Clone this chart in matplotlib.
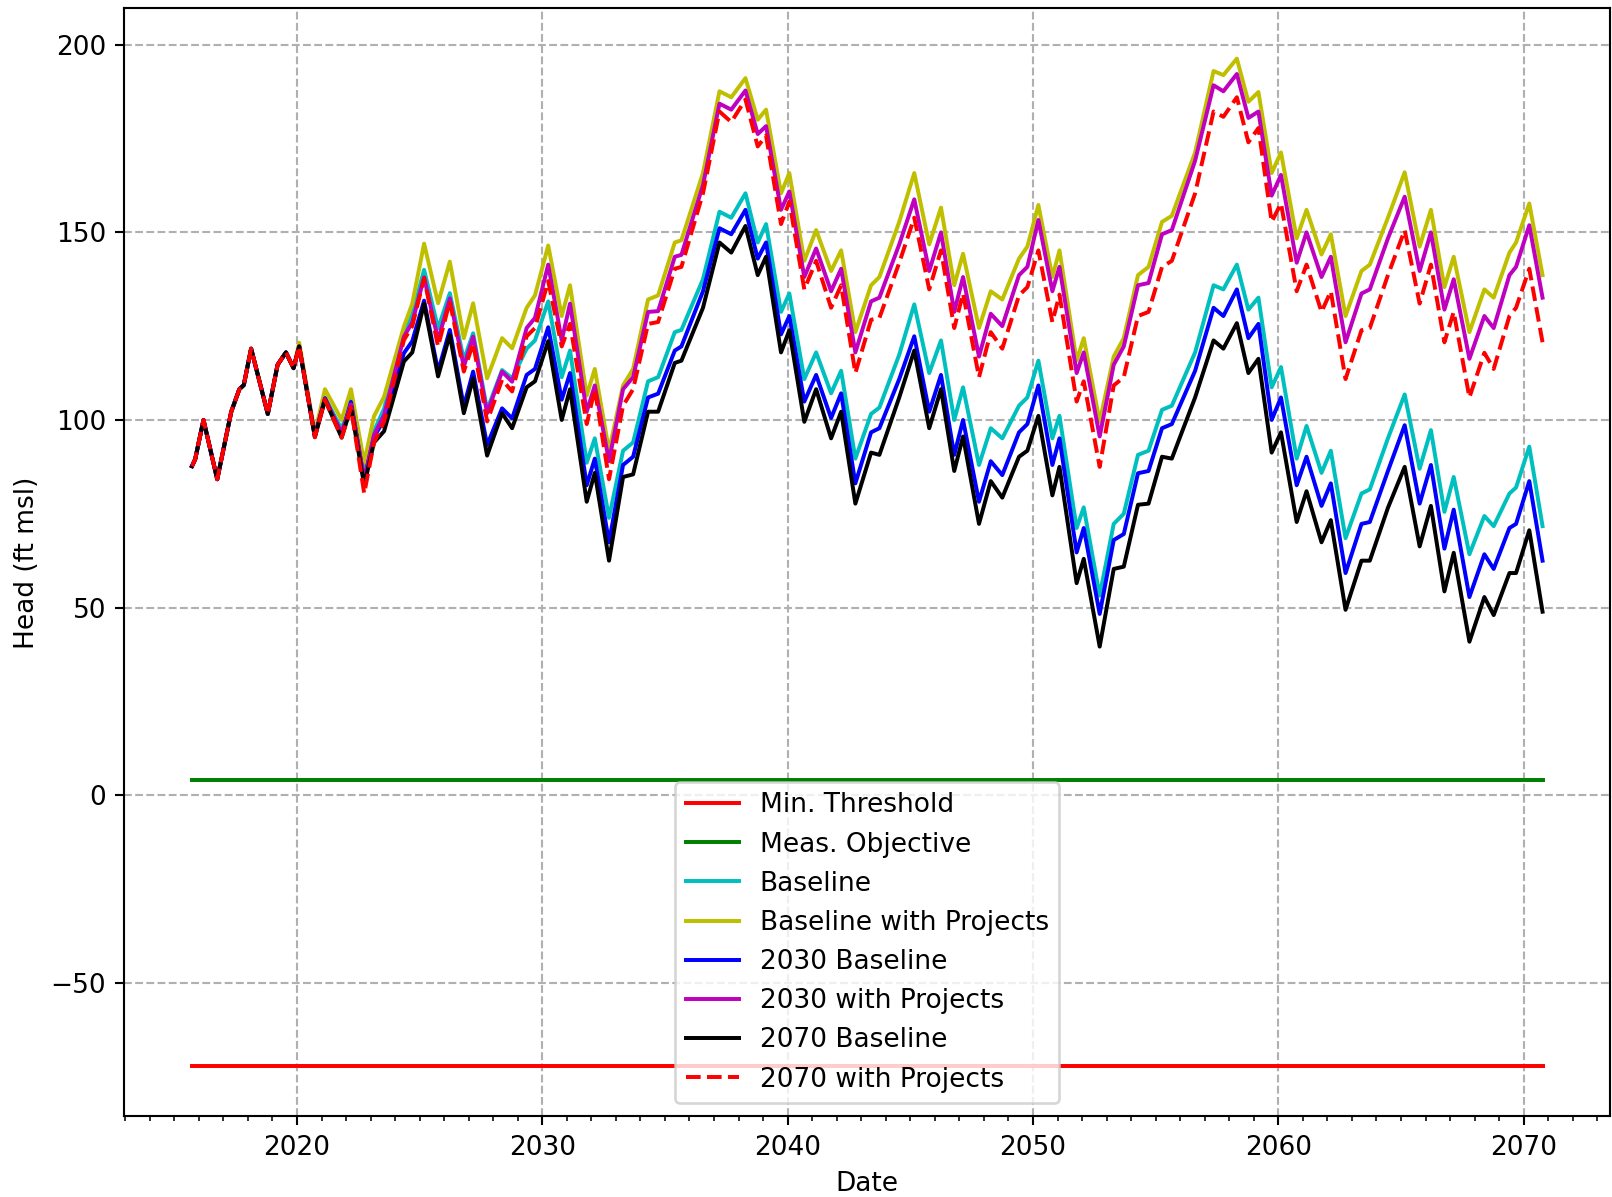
import numpy as np
import pandas as pd
import matplotlib
matplotlib.use('Agg')
import matplotlib.pyplot as plt
import matplotlib.dates as mdates

# Общий участок (до 2020 г.) - все сценарии совпадают
early_t = [2015.72, 2015.85, 2016.19, 2016.75, 2017.32, 2017.65, 2017.83, 2018.13,
           2018.81, 2019.21, 2019.55, 2019.86]
early_head = [87.7, 89.5, 100.0, 84.2, 102.2, 108.2, 109.3, 119.0, 101.6, 114.7, 118.0, 113.8]

# Прогнозный период, десятичные годы
late_t = [2020.09, 2020.73, 2021.14, 2021.82, 2022.2, 2022.74, 2023.14, 2023.55, 2024.36, 2024.7,
          2025.18, 2025.75, 2026.23, 2026.8, 2027.18, 2027.75, 2028.36, 2028.77, 2029.36, 2029.7,
          2030.24, 2030.79, 2031.13, 2031.81, 2032.14, 2032.72, 2033.29, 2033.7, 2034.31, 2034.72,
          2035.4, 2035.67, 2036.55, 2037.22, 2037.7, 2038.28, 2038.78, 2039.12, 2039.73, 2040.07,
          2040.68, 2041.16, 2041.77, 2042.18, 2042.76, 2043.4, 2043.74, 2044.55, 2045.16, 2045.77,
          2046.25, 2046.79, 2047.15, 2047.8, 2048.28, 2048.75, 2049.43, 2049.77, 2050.22, 2050.79,
          2051.08, 2051.78, 2052.07, 2052.72, 2053.29, 2053.7, 2054.28, 2054.71, 2055.26, 2055.66,
          2056.61, 2057.36, 2057.76, 2058.31, 2058.78, 2059.19, 2059.73, 2060.11, 2060.75, 2061.15,
          2061.76, 2062.14, 2062.74, 2063.39, 2063.73, 2064.47, 2065.15, 2065.76, 2066.22, 2066.77,
          2067.15, 2067.79, 2068.4, 2068.78, 2069.42, 2069.69, 2070.23, 2070.77]

baseline = [119.8, 96.0, 106.0, 97.5, 106.0, 86.0, 97.0, 103.0, 124.0, 128.0,
            140.0, 124.4, 133.8, 116.0, 123.1, 102.7, 113.3, 111.1, 119.0, 121.2,
            131.6, 111.4, 118.5, 88.6, 95.1, 73.9, 91.8, 94.0, 110.3, 111.4,
            123.4, 124.0, 137.5, 155.5, 153.9, 160.4, 147.3, 152.2, 128.8, 133.7,
            110.9, 118.0, 107.1, 113.1, 89.7, 101.6, 103.3, 117.4, 130.8, 112.5,
            121.2, 100.0, 108.7, 88.0, 97.8, 95.1, 103.8, 106.0, 115.8, 95.1,
            101.1, 71.2, 76.7, 53.2, 72.3, 75.0, 90.7, 91.8, 102.7, 103.8,
            118.0, 135.9, 134.8, 141.4, 129.4, 132.6, 108.7, 114.1, 89.7, 98.4,
            85.9, 91.8, 68.5, 80.4, 81.5, 95.1, 106.8, 87.0, 97.3, 75.5,
            84.8, 64.2, 74.4, 71.7, 80.4, 82.0, 92.9, 71.7]

baseline_proj = [120.6, 96.5, 108.2, 100.0, 108.2, 88.6, 101.0, 106.2, 124.9, 131.0,
                 147.0, 131.1, 142.2, 121.8, 131.1, 111.1, 121.8, 119.1, 129.9, 133.2,
                 146.5, 127.7, 135.9, 106.5, 113.6, 91.8, 109.2, 113.6, 132.1, 133.2,
                 147.3, 147.9, 165.8, 187.6, 186.0, 191.1, 180.0, 182.7, 160.4, 165.8,
                 142.4, 150.6, 139.7, 145.2, 123.4, 135.9, 138.1, 152.8, 165.8, 146.8,
                 156.6, 135.9, 144.3, 124.5, 134.3, 132.1, 143.0, 146.2, 157.3, 138.1,
                 145.2, 115.8, 121.8, 99.5, 116.9, 121.8, 138.6, 140.8, 152.8, 154.4,
                 171.3, 193.0, 191.9, 196.3, 184.8, 187.4, 165.8, 171.3, 148.4, 156.0,
                 144.1, 149.5, 127.7, 139.7, 141.4, 153.9, 166.0, 146.2, 156.0, 135.4,
                 143.5, 123.4, 134.8, 132.6, 144.6, 147.3, 157.7, 138.6]

base_2030 = [119.6, 95.8, 105.8, 96.0, 104.8, 84.0, 95.5, 100.0, 117.8, 121.0,
             131.8, 113.0, 124.0, 103.6, 112.9, 93.3, 103.1, 100.4, 112.0, 113.6,
             124.7, 105.4, 112.5, 82.6, 89.7, 67.4, 88.0, 90.2, 106.0, 107.0,
             118.5, 119.6, 134.3, 151.1, 149.5, 156.0, 143.0, 147.3, 122.8, 127.7,
             104.9, 112.0, 100.5, 107.1, 83.1, 96.7, 97.8, 110.9, 122.3, 102.2,
             112.0, 90.7, 100.0, 78.2, 89.0, 85.3, 96.7, 98.9, 109.2, 88.0,
             95.1, 64.7, 71.2, 48.3, 68.0, 69.6, 85.8, 86.4, 97.8, 98.9,
             113.1, 129.9, 127.7, 134.8, 121.8, 125.6, 100.0, 106.0, 82.6, 90.2,
             77.1, 83.1, 59.2, 72.3, 72.8, 86.4, 98.6, 77.7, 88.0, 65.7,
             76.1, 52.8, 64.2, 60.3, 71.2, 72.3, 83.7, 62.5]

proj_2030 = [119.6, 95.6, 105.6, 96.5, 104.2, 84.0, 96.0, 101.3, 122.2, 126.0,
             138.0, 121.3, 132.4, 114.2, 122.2, 101.8, 112.9, 110.2, 124.5, 127.2,
             141.4, 121.2, 131.0, 102.2, 109.2, 89.0, 108.2, 111.4, 128.8, 129.0,
             143.5, 144.0, 162.6, 184.3, 182.7, 187.8, 176.2, 178.3, 156.0, 160.9,
             138.1, 145.7, 134.3, 140.3, 118.0, 131.6, 132.6, 146.8, 158.8, 139.7,
             150.0, 128.8, 138.1, 116.9, 128.3, 125.0, 138.6, 140.8, 153.3, 134.3,
             140.8, 112.5, 118.0, 95.6, 114.7, 119.6, 135.9, 136.5, 149.5, 150.6,
             169.1, 189.2, 187.6, 192.2, 180.5, 182.2, 159.8, 165.3, 141.9, 150.0,
             138.1, 143.5, 120.7, 133.7, 134.8, 148.4, 159.5, 139.7, 150.0, 129.4,
             137.5, 116.3, 127.7, 124.5, 138.6, 140.8, 151.9, 132.6]

base_2070 = [119.6, 95.4, 105.4, 95.3, 103.3, 82.6, 94.0, 97.0, 115.6, 118.0,
             131.0, 111.6, 122.7, 101.8, 111.1, 90.5, 101.8, 97.8, 108.7, 110.3,
             121.0, 100.0, 108.2, 78.2, 85.9, 62.5, 84.8, 85.5, 102.2, 102.2,
             115.2, 115.8, 129.9, 147.3, 144.6, 151.7, 138.6, 143.5, 118.0, 123.9,
             99.5, 108.2, 95.1, 102.2, 77.7, 91.3, 90.7, 106.0, 118.5, 97.8,
             108.2, 86.4, 95.6, 72.3, 83.7, 79.3, 90.2, 91.8, 101.1, 79.9,
             87.5, 56.5, 63.0, 39.6, 60.3, 60.9, 77.4, 77.7, 90.2, 89.7,
             106.0, 121.2, 119.0, 125.8, 112.5, 116.3, 91.3, 96.7, 72.8, 81.0,
             67.4, 73.3, 49.4, 62.5, 62.5, 76.6, 87.5, 66.3, 77.1, 54.3,
             64.6, 40.9, 52.8, 48.0, 59.2, 59.2, 70.6, 48.9]

proj_2070 = [119.6, 95.4, 105.4, 95.3, 103.3, 80.4, 94.0, 99.6, 121.3, 125.0,
             137.8, 119.6, 131.6, 112.9, 120.4, 99.6, 110.7, 107.6, 122.3, 124.5,
             137.0, 119.6, 125.6, 98.9, 108.2, 84.2, 103.8, 108.2, 125.6, 126.1,
             140.3, 140.8, 160.4, 182.2, 179.4, 185.4, 172.9, 175.8, 152.2, 158.2,
             134.8, 142.4, 129.9, 135.9, 112.5, 126.7, 127.2, 141.9, 153.9, 134.8,
             145.2, 124.5, 133.7, 111.4, 123.4, 119.0, 133.2, 135.4, 145.2, 126.1,
             133.4, 104.9, 110.3, 87.5, 109.2, 111.4, 127.7, 128.8, 140.8, 142.4,
             160.4, 182.2, 180.8, 186.0, 174.0, 177.8, 152.8, 157.7, 134.3, 141.4,
             128.8, 134.3, 110.9, 123.9, 124.5, 138.6, 150.6, 131.0, 141.4, 120.7,
             128.8, 106.0, 117.9, 113.6, 127.7, 129.9, 140.3, 120.7]

min_threshold = -72.2
meas_objective = 4.0


def to_date(y):
    # десятичный год -> дата
    yr = int(y)
    return pd.Timestamp(yr, 1, 1) + pd.Timedelta(days=(y - yr) * 365.25)


dates = [to_date(y) for y in early_t + late_t]

series = [
    ('Baseline', baseline, 'c-'),
    ('Baseline with Projects', baseline_proj, 'y-'),
    ('2030 Baseline', base_2030, 'b-'),
    ('2030 with Projects', proj_2030, 'm-'),
    ('2070 Baseline', base_2070, 'k-'),
    ('2070 with Projects', proj_2070, 'r--'),
]

fig = plt.figure(figsize=(1612 / 190, 1197 / 190), dpi=190)
ax = fig.add_axes([0.0772, 0.0673, 0.9216, 0.9258])

n = len(dates)
ax.plot(dates, np.full(n, min_threshold), 'r-', label='Min. Threshold')
ax.plot(dates, np.full(n, meas_objective), 'g-', label='Meas. Objective')
for label, vals, style in series:
    ax.plot(dates, early_head + vals, style, label=label)

ax.xaxis.set_major_locator(mdates.YearLocator(10))
ax.xaxis.set_minor_locator(mdates.YearLocator(1))
ax.xaxis.set_major_formatter(mdates.DateFormatter('%Y'))

ax.grid(True, linestyle='--')
ax.set_xlabel('Date')
ax.set_ylabel('Head (ft msl)')
ax.legend(loc='lower center')

fig.savefig('out.png', dpi=190)
